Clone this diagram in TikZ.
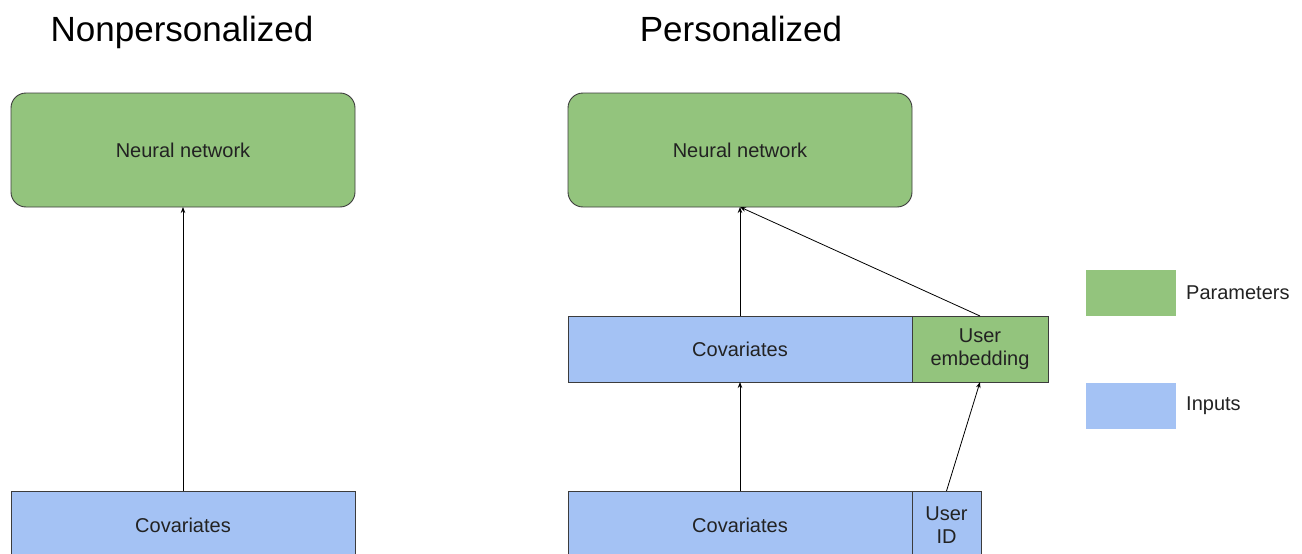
\documentclass[tikz,border=0pt]{standalone}
\usepackage{fontspec}
\setmainfont{Liberation Sans}
\usetikzlibrary{arrows.meta}
\definecolor{pgreen}{HTML}{93C47D}
\definecolor{iblue}{HTML}{A4C2F4}
\definecolor{edge}{HTML}{3C3C3C}
\definecolor{txt}{HTML}{222222}
\tikzset{
  box/.style={draw=edge, line width=0.9pt, inner sep=0pt, outer sep=0pt, align=center,
    text=txt, font=\fontsize{20}{23}\selectfont},
  nn/.style={box, fill=pgreen, rounded corners=15pt, minimum width=344pt, minimum height=114pt},
  inp/.style={box, fill=iblue},
  par/.style={box, fill=pgreen},
  legbox/.style={inner sep=0pt, outer sep=0pt, minimum width=90pt, minimum height=46pt},
  leglabel/.style={anchor=west, inner sep=0pt, text=txt, font=\fontsize{20}{23}\selectfont},
  title/.style={anchor=base, inner sep=0pt, text=black, font=\fontsize{35}{40}\selectfont},
  arr/.style={draw=black, line width=0.8pt, -{Stealth[length=6pt,width=4.5pt]}}
}
\begin{document}
\begin{tikzpicture}[x=1pt,y=-1pt]
\useasboundingbox (0,0) rectangle (1302,554);
\clip (0,0) rectangle (1302,554);
% titles
\node[title] (t1) at (182,41) {Nonpersonalized};
\node[title] (t2) at (741,41) {Personalized};
% left
\node[nn] (lnn) at (183,150) {Neural network};
\node[inp, minimum width=344pt, minimum height=68pt] (lcov) at (183,525) {Covariates};
\draw[arr] (lcov.north) -- (lnn.south);
% right
\node[nn] (rnn) at (740,150) {Neural network};
\node[inp, minimum width=344pt, minimum height=66pt] (mcov) at (740,349) {Covariates};
\node[par, minimum width=136pt, minimum height=66pt] (emb) at (980,349) {User\\embedding};
\node[inp, minimum width=344pt, minimum height=68pt] (bcov) at (740,525) {Covariates};
\node[inp, minimum width=69pt, minimum height=68pt] (uid) at (946.5,525) {User\\ID};
\draw[arr] (mcov.north) -- (rnn.south);
\draw[arr] (emb.north) -- (rnn.south);
\draw[arr] (bcov.north) -- (mcov.south);
\draw[arr] (uid.north) -- (emb.south);
% legend
\node[legbox, fill=pgreen] (lg1) at (1131,293) {};
\node[leglabel] (ll1) at (1186,293) {Parameters};
\node[legbox, fill=iblue] (lg2) at (1131,406) {};
\node[leglabel] (ll2) at (1186,406) {Inputs};
\end{tikzpicture}
\end{document}
